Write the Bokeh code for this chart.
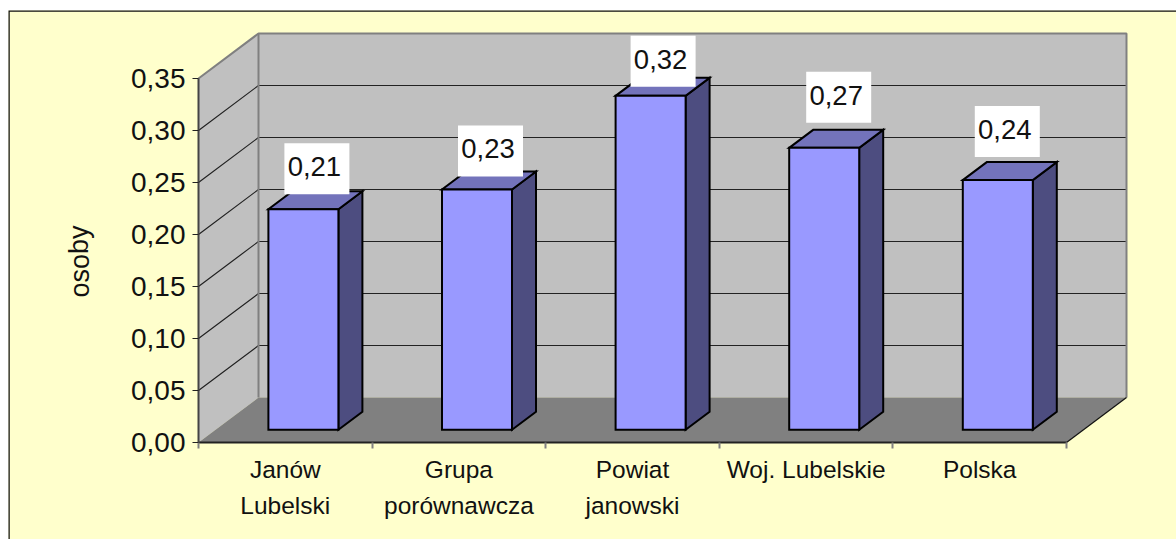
from bokeh.plotting import figure
from bokeh.models import FixedTicker, Range1d
from bokeh.embed import file_html
from bokeh.resources import INLINE
from bokeh.core.properties import value

# ---- data ----
categories = ["Janów\nLubelski", "Grupa\nporównawcza", "Powiat\njanowski", "Woj. Lubelskie", "Polska"]
values = [0.212, 0.231, 0.321, 0.271, 0.24]
value_labels = ["0,21", "0,23", "0,32", "0,27", "0,24"]
y_ticks = [0.0, 0.05, 0.10, 0.15, 0.20, 0.25, 0.30, 0.35]
y_tick_labels = ["0,00", "0,05", "0,10", "0,15", "0,20", "0,25", "0,30", "0,35"]
y_title = "osoby"

# ---- layout (pixels of the page) ----
PX_X0, PX_Y0, PX_CAT, PX_UNIT = 198.0, 442.0, 173.6, 1040.0
DX, DY = 60 / PX_CAT, 45 / PX_UNIT          # shift of the 3-D depth axis
YMAX = 0.35
N = len(categories)
BAR_W = 70 / PX_CAT
BAR_SHIFT = 1 / PX_CAT
BAR_D0, BAR_D1 = 0.285, 0.685
LABEL_DX_PX = [13.5, 13.5, 12.5, 14.5, 9.5]
LABEL_GAP_PX = [15, 13, 9, 25, 23]
BOX_W, BOX_H = 65 / PX_CAT, 51 / PX_UNIT
TEXT_NUDGE_X, TEXT_NUDGE_Y = -2.5 / PX_CAT, 2 / PX_UNIT
FONT = value("Liberation Sans")

p = figure(width=1176, height=539, output_backend="svg", toolbar_location=None,
           x_range=Range1d((8 - PX_X0) / PX_CAT, (1176 - PX_X0) / PX_CAT),
           y_range=Range1d((PX_Y0 - 539) / PX_UNIT, (PX_Y0 - 10) / PX_UNIT),
           min_border=0, min_border_top=10, min_border_left=8,
           x_axis_location="below", y_axis_location="left")
p.grid.visible = False
p.outline_line_color = None
p.border_fill_color = "white"
p.background_fill_color = "#FFFFCC"

# chart-area border: left and top edge only are in view
xl, xr = p.x_range.start, p.x_range.end
yb, yt = p.y_range.start, p.y_range.end
p.line([xl, xl, xr], [yb, yt, yt], line_color="#111111", line_width=2.5)

# walls and floor
p.patch([0, DX, DX, 0], [0, DY, YMAX + DY, YMAX], fill_color="#C0C0C0", line_color=None)
p.patch([DX, N + DX, N + DX, DX], [DY, DY, YMAX + DY, YMAX + DY], fill_color="#C0C0C0", line_color=None)
p.patch([0, N, N + DX, DX], [0, 0, DY, DY], fill_color="#808080", line_color=None)

# gridlines
for t in y_ticks[1:-1]:
    p.line([0, DX, N + DX], [t, t + DY, t + DY], line_color="#222222", line_width=1.2)

# wall edges
p.line([0, DX, N + DX, N + DX], [YMAX, YMAX + DY, YMAX + DY, DY], line_color="#808080", line_width=2)
p.line([DX, DX], [DY, YMAX + DY], line_color="#808080", line_width=2)
p.line([N, N + DX], [0, DY], line_color="#111111", line_width=1.2)

# bars
for i, v in enumerate(values):
    x0 = i + 0.5 - BAR_W / 2 + BAR_D0 * DX + BAR_SHIFT
    x1 = x0 + BAR_W
    y0 = BAR_D0 * DY
    y1 = v + y0
    ddx, ddy = (BAR_D1 - BAR_D0) * DX, (BAR_D1 - BAR_D0) * DY
    p.patch([x1, x1 + ddx, x1 + ddx, x1], [y0, y0 + ddy, y1 + ddy, y1],
            fill_color="#4D4D80", line_color="black", line_width=2, line_join="miter")
    p.patch([x0, x1, x1 + ddx, x0 + ddx], [y1, y1, y1 + ddy, y1 + ddy],
            fill_color="#7373BB", line_color="black", line_width=2, line_join="miter")
    p.quad(left=x0, right=x1, bottom=y0, top=y1,
           fill_color="#9999FF", line_color="black", line_width=2, line_join="miter")
    cx = (x0 + x1) / 2 + LABEL_DX_PX[i] / PX_CAT
    b = y1 + LABEL_GAP_PX[i] / PX_UNIT
    p.quad(left=cx - BOX_W / 2, right=cx + BOX_W / 2, bottom=b, top=b + BOX_H,
           fill_color="white", line_color=None)
    p.text([cx + TEXT_NUDGE_X], [b + BOX_H / 2 + TEXT_NUDGE_Y], text=[value_labels[i]],
           text_font=FONT, text_font_size="27.5px",
           text_align="center", text_baseline="middle", text_color="#111111")

# axes
p.yaxis.fixed_location = 0
p.yaxis.bounds = (0, YMAX)
p.yaxis.ticker = FixedTicker(ticks=y_ticks)
p.yaxis.major_label_overrides = {t: s for t, s in zip(y_ticks, y_tick_labels)}
p.yaxis.major_label_text_font = "Liberation Sans"
p.yaxis.major_label_text_font_size = "28px"
p.yaxis.major_label_text_color = "#111111"
p.yaxis.axis_line_color = "#444444"
p.yaxis.axis_line_width = 2
p.yaxis.major_tick_line_color = "#222222"
p.yaxis.major_tick_line_width = 1
p.yaxis.major_tick_in = 0
p.yaxis.major_tick_out = 6
p.yaxis.minor_tick_line_color = None
p.yaxis.major_label_standoff = 7

p.xaxis.fixed_location = 0
p.xaxis.bounds = (0, N)
p.xaxis.ticker = FixedTicker(ticks=list(range(N + 1)))
p.xaxis.major_label_text_font_size = "0px"
p.xaxis.major_label_text_color = None
p.xaxis.axis_line_color = "#222222"
p.xaxis.axis_line_width = 2
p.xaxis.major_tick_line_color = "#808080"
p.xaxis.major_tick_line_width = 2
p.xaxis.major_tick_in = 0
p.xaxis.major_tick_out = 6
p.xaxis.minor_tick_line_color = None

# category labels
p.text([i + 0.5 for i in range(N)], [(PX_Y0 - 455) / PX_UNIT] * N, text=categories,
       text_font=FONT, text_font_size="24.5px", text_align="center", text_baseline="top",
       text_line_height=1.36, text_color="#111111")

# axis title
p.text([(79 - PX_X0) / PX_CAT], [(PX_Y0 - 261) / PX_UNIT], text=[y_title], angle=1.5708,
       text_font=FONT, text_font_size="27px", text_align="center", text_baseline="middle",
       text_color="#111111")

open("out.html", "w").write(file_html(p, INLINE))
